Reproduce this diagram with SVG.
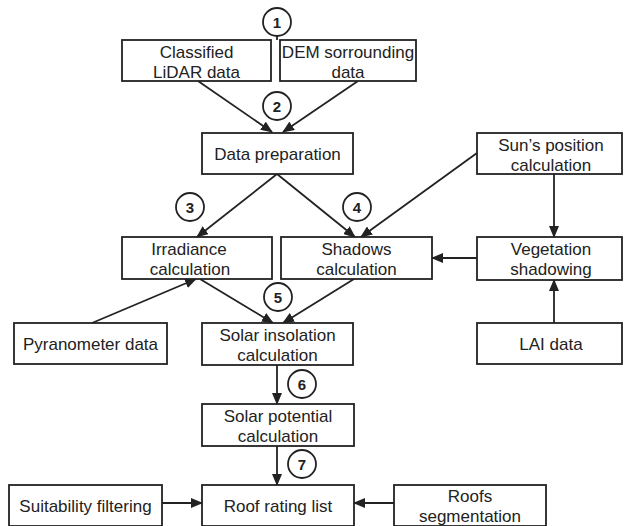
<svg xmlns="http://www.w3.org/2000/svg" width="624" height="526" viewBox="0 0 624 526">
<defs>
<marker id="ah" markerWidth="12" markerHeight="10" refX="11" refY="5" orient="auto" markerUnits="userSpaceOnUse">
<path d="M0,0 L12,5 L0,10 Z" fill="#222"/>
</marker>
<style>
.box{fill:#fff;stroke:#222;stroke-width:1.8}
.t{font-family:"Liberation Sans",Arial,sans-serif;font-size:17px;fill:#222;text-anchor:middle}
.c{fill:#fff;stroke:#222;stroke-width:1.8}
.n{font-family:"Liberation Sans",Arial,sans-serif;font-size:15px;font-weight:bold;fill:#222;text-anchor:middle}
.e{stroke:#222;stroke-width:1.8;fill:none;marker-end:url(#ah)}
.l{stroke:#222;stroke-width:1.8;fill:none}
</style>
</defs>
<rect width="624" height="526" fill="#fff"/>
<g id="connectors">
<line class="e" x1="198" y1="81" x2="272" y2="132"/>
<line class="e" x1="358" y1="81" x2="283" y2="132"/>
<line class="e" x1="277" y1="174" x2="197" y2="237"/>
<line class="e" x1="277" y1="174" x2="355" y2="237"/>
<line class="e" x1="477" y1="153" x2="361" y2="237"/>
<line class="e" x1="554" y1="174" x2="554" y2="237"/>
<line class="e" x1="477" y1="258" x2="432" y2="258"/>
<line class="e" x1="554" y1="323" x2="554" y2="280"/>
<line class="e" x1="92" y1="323" x2="196" y2="279"/>
<line class="e" x1="200" y1="279" x2="273" y2="323"/>
<line class="e" x1="354" y1="279" x2="283" y2="323"/>
<line class="e" x1="277" y1="365" x2="277" y2="404"/>
<line class="e" x1="277" y1="446" x2="277" y2="485"/>
<line class="e" x1="162" y1="503" x2="202" y2="503"/>
<line class="e" x1="394" y1="503" x2="354" y2="503"/>
<line class="l" x1="277" y1="36" x2="277" y2="40"/>
</g>
<g id="n-lidar"><rect class="box" x="122" y="40" width="149" height="41"/><text class="t" x="196.5" y="58">Classified</text><text class="t" x="196.5" y="78">LiDAR data</text></g>
<g id="n-dem"><rect class="box" x="280" y="40" width="136" height="41"/><text class="t" x="348" y="58">DEM sorrounding</text><text class="t" x="348" y="78">data</text></g>
<g id="n-prep"><rect class="box" x="202" y="133" width="151" height="41"/><text class="t" x="277.5" y="159.5">Data preparation</text></g>
<g id="n-sun"><rect class="box" x="477" y="133" width="145" height="41"/><text class="t" x="551" y="151">Sun’s position</text><text class="t" x="551" y="171">calculation</text></g>
<g id="n-irr"><rect class="box" x="122" y="237" width="150" height="42"/><text class="t" x="189" y="255">Irradiance</text><text class="t" x="190" y="275">calculation</text></g>
<g id="n-shadows"><rect class="box" x="281" y="237" width="151" height="42"/><text class="t" x="356.5" y="255">Shadows</text><text class="t" x="356.5" y="275">calculation</text></g>
<g id="n-veg"><rect class="box" x="477" y="237" width="145" height="43"/><text class="t" x="551" y="255">Vegetation</text><text class="t" x="551" y="275">shadowing</text></g>
<g id="n-pyr"><rect class="box" x="14" y="323" width="153" height="41"/><text class="t" x="90.5" y="349.5">Pyranometer data</text></g>
<g id="n-insol"><rect class="box" x="202" y="323" width="151" height="42"/><text class="t" x="277.5" y="341">Solar insolation</text><text class="t" x="277.5" y="361">calculation</text></g>
<g id="n-lai"><rect class="box" x="477" y="323" width="145" height="41"/><text class="t" x="551" y="349.5">LAI data</text></g>
<g id="n-pot"><rect class="box" x="202" y="404" width="152" height="42"/><text class="t" x="278" y="422">Solar potential</text><text class="t" x="278" y="442">calculation</text></g>
<g id="n-suit"><rect class="box" x="9" y="485" width="153" height="41"/><text class="t" x="85.5" y="511.5">Suitability filtering</text></g>
<g id="n-roof"><rect class="box" x="202" y="485" width="152" height="41"/><text class="t" x="278" y="511.5">Roof rating list</text></g>
<g id="n-seg"><rect class="box" x="394" y="485" width="152" height="41"/><text class="t" x="470" y="502">Roofs</text><text class="t" x="470" y="522">segmentation</text></g>
<g id="steps">
<circle class="c" cx="277" cy="22" r="14"/><text class="n" x="277" y="27.5">1</text>
<circle class="c" cx="277" cy="106" r="14"/><text class="n" x="277" y="111.5">2</text>
<circle class="c" cx="190" cy="207" r="14"/><text class="n" x="190" y="212.5">3</text>
<circle class="c" cx="357" cy="207" r="14"/><text class="n" x="357" y="212.5">4</text>
<circle class="c" cx="278" cy="297" r="14"/><text class="n" x="278" y="302.5">5</text>
<circle class="c" cx="302" cy="384" r="14"/><text class="n" x="302" y="389.5">6</text>
<circle class="c" cx="302" cy="464" r="14"/><text class="n" x="302" y="469.5">7</text>
</g>
</svg>
